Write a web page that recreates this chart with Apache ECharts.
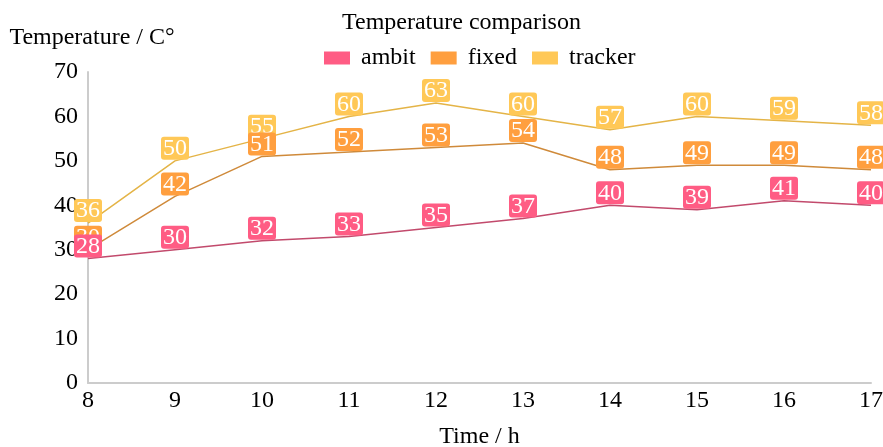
<!DOCTYPE html>
<html>
<head>
<meta charset="utf-8">
<script src="https://cdn.jsdelivr.net/npm/echarts@6/dist/echarts.min.js"></script>
<style>html,body{margin:0;padding:0;background:#fff}#c{width:883px;height:447px}</style>
</head>
<body>
<div id="c"></div>
<script>
var hours = ['8','9','10','11','12','13','14','15','16','17'];
var ambit = [28,30,32,33,35,37,40,39,41,40];
var fixed = [30,42,51,52,53,54,48,49,49,48];
var tracker = [36,50,55,60,63,60,57,60,59,58];
var seriesNames = ['ambit','fixed','tracker'];
var bgColors = ['#ff5c84','#ff9f3f','#ffc857'];
var lineColors = ['#c24a6c','#cf8a3a','#e4b447'];
var font = 'Liberation Serif';

function mk(i, data, z){
  return {
    name: seriesNames[i], type: 'line', data: data, symbol: 'circle', symbolSize: 0, showSymbol: true, z: z,
    itemStyle: {color: bgColors[i]},
    lineStyle: {color: lineColors[i], width: 1.5},
    label: {show: true, position: 'top', distance: 1, color: '#fff', fontFamily: font, fontSize: 24,
      backgroundColor: bgColors[i], borderRadius: 3, padding: [1,2,0,2], lineHeight: 22}
  };
}
var chart = echarts.init(document.getElementById('c'));
chart.setOption({
  animation: false,
  textStyle: {fontFamily: font},
  title: {text: 'Temperature comparison', left: 337, top: 6,
    textStyle: {fontFamily: font, fontSize: 24, fontWeight: 'normal', color: '#000'}},
  legend: {top: 41, left: 319, itemWidth: 26, itemHeight: 13, itemGap: 15, icon: 'rect',
    textStyle: {fontFamily: font, fontSize: 24, color: '#000', padding: [0,0,0,6]}},
  grid: {left: 88, right: 12, top: 72, bottom: 64, outerBoundsMode: 'none', containLabel: false},
  xAxis: {type: 'category', data: hours, boundaryGap: false,
    name: 'Time / h', nameLocation: 'middle', nameGap: 42,
    nameTextStyle: {fontFamily: font, fontSize: 24, color: '#000'},
    axisLine: {lineStyle: {color: '#ccc', width: 2}},
    axisTick: {show: false},
    axisLabel: {fontFamily: font, fontSize: 24, color: '#000', margin: 6}},
  yAxis: {type: 'value', min: 0, max: 70, interval: 10,
    name: 'Temperature / C°', nameGap: 22,
    nameTextStyle: {fontFamily: font, fontSize: 24, color: '#000', padding: [0,0,0,8]},
    axisLine: {show: true, lineStyle: {color: '#ccc', width: 2}},
    axisTick: {show: false}, splitLine: {show: false},
    axisLabel: {fontFamily: font, fontSize: 24, color: '#000', margin: 10}},
  series: [mk(0, ambit, 4), mk(1, fixed, 3), mk(2, tracker, 2)]
});
</script>
</body>
</html>
